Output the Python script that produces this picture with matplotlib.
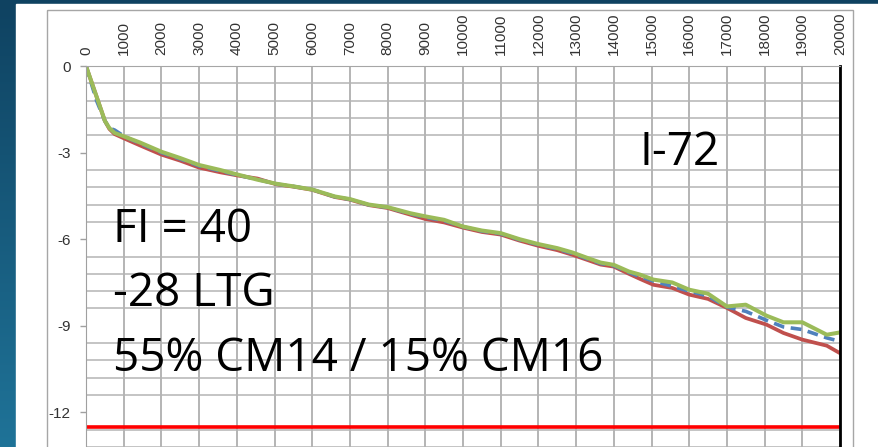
import numpy as np
import matplotlib
matplotlib.use('Agg')
import matplotlib.pyplot as plt
from matplotlib.colors import LinearSegmentedColormap
from matplotlib.patches import Rectangle

# values
x_pts = [0, 280, 500, 620, 760, 1030, 1430, 2000, 2500, 3000, 3550, 4050, 4550, 5050,
         5500, 6000, 6600, 7000, 7500, 8000, 8600, 9000, 9500, 10000, 10500, 11000,
         11500, 12000, 12500, 12900, 13300, 13650, 14000, 14400, 14700, 15050, 15550,
         16000, 16500, 17000, 17500, 18050, 18500, 19000, 19650, 20000]
green_y = [0, -1.06, -1.90, -2.15, -2.32, -2.45, -2.65, -2.97, -3.19, -3.43, -3.60, -3.77, -3.94, -4.08,
           -4.17, -4.28, -4.52, -4.61, -4.80, -4.89, -5.10, -5.21, -5.33, -5.56, -5.70, -5.79,
           -6.00, -6.17, -6.31, -6.46, -6.65, -6.81, -6.89, -7.12, -7.23, -7.40, -7.50,
           -7.75, -7.89, -8.33, -8.27, -8.65, -8.88, -8.88, -9.31, -9.23]
red_y = [0, -1.06, -1.90, -2.18, -2.36, -2.52, -2.75, -3.07, -3.28, -3.52, -3.68, -3.80, -3.90, -4.10,
         -4.18, -4.29, -4.54, -4.63, -4.82, -4.92, -5.15, -5.30, -5.42, -5.60, -5.75, -5.84,
         -6.05, -6.23, -6.38, -6.54, -6.72, -6.88, -6.95, -7.20, -7.38, -7.58, -7.69,
         -7.92, -8.07, -8.38, -8.73, -8.96, -9.25, -9.48, -9.69, -9.95]
blue_y = [0, -1.20, -1.90, -2.15, -2.22, -2.45, -2.68, -3.00, -3.22, -3.46, -3.63, -3.79, -3.93, -4.09,
          -4.17, -4.28, -4.53, -4.62, -4.81, -4.90, -5.12, -5.24, -5.36, -5.57, -5.72, -5.81,
          -6.02, -6.19, -6.34, -6.49, -6.68, -6.84, -6.92, -7.15, -7.30, -7.45, -7.63,
          -7.80, -7.97, -8.35, -8.50, -8.81, -9.04, -9.13, -9.42, -9.54]
limit_y = -12.5

x_ticks = list(range(0, 20001, 1000))
y_ticks = [0, -3, -6, -9, -12]
y_minor = [round(-0.6 * i, 1) for i in range(23)]

W, H = 879, 447
fig = plt.figure(figsize=(W / 100, H / 100), dpi=100)

# slide background
bg = fig.add_axes([0, 0, 1, 1], zorder=-10)
bg.axis('off')
cmap = LinearSegmentedColormap.from_list('bg', ['#0f4261', '#1f7398'])
bg.imshow(np.linspace(0, 1, 256).reshape(-1, 1), aspect='auto', cmap=cmap,
          extent=[0, W, H, 0])
bg.set_xlim(0, W)
bg.set_ylim(H, 0)
bg.add_patch(Rectangle((16, 4), W - 16, H - 4, color='white'))
bg.add_patch(Rectangle((47, 10), 853 - 47, H, fill=False, ec='#a6a6a6', lw=1))

ax = fig.add_axes([86 / W, 0, (840 - 86) / W, (H - 66) / H])
ax.patch.set_alpha(0)
ax.set_xlim(0, 20000)
ax.set_ylim(-13.18, 0)

ax.set_xticks(x_ticks)
ax.xaxis.tick_top()
ax.tick_params(axis='x', length=0, pad=8, labelrotation=90, labelsize=11,
               labelcolor='#333333')
ax.set_yticks(y_ticks)
ax.set_yticklabels([str(v) for v in y_ticks])
ax.set_yticks(y_minor, minor=True)
ax.tick_params(axis='y', which='major', length=4, width=1, color='#a0a0a0', pad=7,
               labelsize=11, labelcolor='#333333')
ax.tick_params(axis='y', which='minor', length=0)
for lab in ax.get_xticklabels() + ax.get_yticklabels():
    lab.set_family('Liberation Sans')

ax.grid(axis='x', which='major', color='#a0a0a0', lw=1.1)
ax.grid(axis='y', which='minor', color='#b4b4b4', lw=1.1)
ax.set_axisbelow(True)

ax.spines['bottom'].set_visible(False)
ax.spines['top'].set_color('#a6a6a6')
ax.spines['left'].set_color('#a0a0a0')
ax.spines['right'].set_color('black')
ax.spines['right'].set_linewidth(2)

ax.axhline(limit_y, color='#ff0000', lw=2.6)
ax.plot(x_pts, red_y, color='#c0504d', lw=2.7, solid_capstyle='round',
        solid_joinstyle='round')
ax.plot(x_pts, blue_y, color='#4f81bd', lw=2.6, ls=(0, (3, 1.8)))
ax.plot(x_pts, green_y, color='#9bbb59', lw=2.9, solid_capstyle='round',
        solid_joinstyle='round')

fam = ['Open Sans', 'DejaVu Sans']
fig.text(113 / W, 1 - 242 / H, 'FI = 40', fontsize=33, family=fam, va='baseline')
fig.text(113 / W, 1 - 306 / H, '-28 LTG', fontsize=33, family=fam, va='baseline')
fig.text(113 / W, 1 - 371 / H, '55% CM14 / 15% CM16', fontsize=33, family=fam,
         va='baseline')
fig.text(640 / W, 1 - 165 / H, 'I-72', fontsize=33, family=fam, va='baseline')

fig.savefig('out.png', dpi=100)
